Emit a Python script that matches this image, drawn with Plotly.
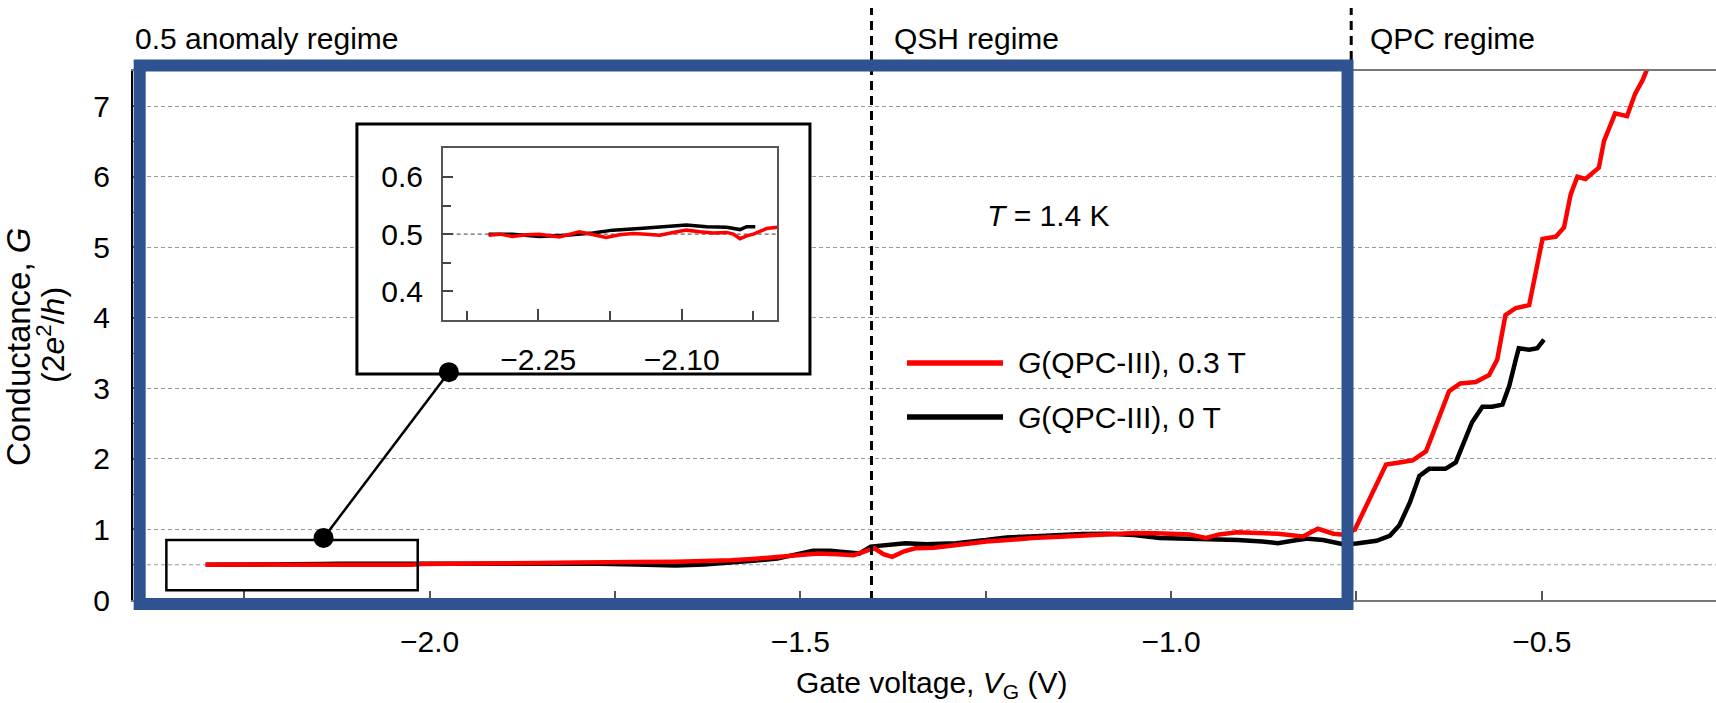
import plotly.graph_objects as go

# ---------------- data ----------------
red_x = [-2.302, -2.290, -2.277, -2.262, -2.249, -2.228, -2.207, -2.193, -2.179, -2.165,
         -2.151, -2.137, -2.123, -2.109, -2.095, -2.081, -2.067, -2.053, -2.046, -2.039,
         -2.032, -2.025, -2.011, -2.000, -1.950, -1.900, -1.850, -1.800, -1.772, -1.720,
         -1.668, -1.630, -1.593, -1.560, -1.531, -1.500, -1.476, -1.450, -1.428, -1.410,
         -1.400, -1.388, -1.376, -1.360, -1.345, -1.320, -1.290, -1.270, -1.249, -1.220,
         -1.187, -1.150, -1.118, -1.085, -1.049, -1.020, -1.000, -0.975, -0.953, -0.935,
         -0.911, -0.885, -0.856, -0.822, -0.802, -0.781, -0.767, -0.752, -0.737, -0.723,
         -0.710, -0.692, -0.674, -0.656, -0.643, -0.625, -0.610, -0.589, -0.571, -0.560,
         -0.549, -0.535, -0.517, -0.508, -0.499, -0.481, -0.470, -0.461, -0.452, -0.441,
         -0.423, -0.416, -0.401, -0.385, -0.374, -0.364, -0.355]
red_g = [0.498, 0.500, 0.496, 0.499, 0.500, 0.495, 0.504, 0.499, 0.494, 0.499,
         0.501, 0.500, 0.498, 0.503, 0.507, 0.504, 0.502, 0.503, 0.500, 0.492,
         0.497, 0.500, 0.510, 0.512, 0.515, 0.518, 0.524, 0.532, 0.539, 0.540,
         0.543, 0.552, 0.563, 0.585, 0.612, 0.640, 0.660, 0.650, 0.636, 0.700,
         0.733, 0.650, 0.612, 0.690, 0.733, 0.740, 0.780, 0.800, 0.830, 0.850,
         0.879, 0.895, 0.913, 0.930, 0.951, 0.945, 0.940, 0.930, 0.879, 0.930,
         0.961, 0.950, 0.940, 0.900, 1.010, 0.940, 0.927, 1.000, 1.320, 1.620,
         1.920, 1.950, 1.980, 2.110, 2.460, 2.960, 3.070, 3.090, 3.190, 3.410,
         4.040, 4.140, 4.180, 4.670, 5.120, 5.150, 5.280, 5.750, 6.000, 5.970,
         6.130, 6.510, 6.900, 6.860, 7.180, 7.370, 7.600]

black_x = [-2.302, -2.277, -2.249, -2.221, -2.193, -2.172, -2.144, -2.123, -2.095, -2.074,
           -2.053, -2.039, -2.032, -2.023, -2.000, -1.950, -1.900, -1.850, -1.800, -1.772,
           -1.720, -1.668, -1.630, -1.600, -1.560, -1.531, -1.500, -1.483, -1.460, -1.442,
           -1.420, -1.405, -1.380, -1.358, -1.330, -1.290, -1.250, -1.222, -1.190, -1.153,
           -1.120, -1.084, -1.050, -1.015, -0.980, -0.946, -0.910, -0.877, -0.856, -0.830,
           -0.815, -0.795, -0.774, -0.768, -0.750, -0.723, -0.705, -0.692, -0.678, -0.665,
           -0.652, -0.630, -0.616, -0.603, -0.594, -0.580, -0.567, -0.553, -0.544, -0.535,
           -0.531, -0.517, -0.506, -0.497]
black_g = [0.500, 0.500, 0.496, 0.498, 0.502, 0.507, 0.510, 0.513, 0.516, 0.513,
           0.512, 0.508, 0.513, 0.513, 0.514, 0.515, 0.518, 0.520, 0.520, 0.515,
           0.505, 0.490, 0.505, 0.524, 0.560, 0.587, 0.650, 0.700, 0.700, 0.684,
           0.660, 0.757, 0.790, 0.806, 0.790, 0.806, 0.850, 0.888, 0.900, 0.927,
           0.935, 0.940, 0.920, 0.879, 0.870, 0.864, 0.850, 0.830, 0.806, 0.850,
           0.870, 0.850, 0.806, 0.790, 0.800, 0.840, 0.910, 1.060, 1.380, 1.760,
           1.860, 1.860, 1.950, 2.300, 2.520, 2.740, 2.740, 2.770, 3.030, 3.410,
           3.570, 3.550, 3.570, 3.690]

INSET_BLACK_END = -2.021

x_tick_vals = [-2.0, -1.5, -1.0, -0.5]
x_tick_text = ["\u22122.0", "\u22121.5", "\u22121.0", "\u22120.5"]
x_minor_vals = [-2.25, -1.75, -1.25, -0.75]
y_tick_vals = [0, 1, 2, 3, 4, 5, 6, 7]
y_minor_vals = [0.5, 1.5, 2.5, 3.5, 4.5, 5.5, 6.5, 7.5]
inset_x_ticks = [-2.25, -2.10]
inset_x_text = ["\u22122.25", "\u22122.10"]
inset_x_minor = [-2.325, -2.175, -2.025]
inset_y_ticks = [0.4, 0.5, 0.6]
inset_y_text = ["0.4", "0.5", "0.6"]
inset_y_minor = [0.45, 0.55]

regime_bounds = [-1.404, -0.757]
regime_labels = ["0.5 anomaly regime", "QSH regime", "QPC regime"]
legend_labels = ["<i>G</i>(QPC-III), 0.3 T", "<i>G</i>(QPC-III), 0 T"]

# ---------------- geometry / style ----------------
W, H = 1716, 703
ML, MR, MT, MB = 133, 0, 71, 103
PW, PH = W - ML - MR, H - MT - MB
X_RANGE = [-2.4, -0.265]
Y_RANGE = [0, 7.5]
INSET_X_RANGE = [-2.35, -2.0]
INSET_Y_RANGE = [0.35, 0.65]

FONT = "Liberation Sans, Arial, Helvetica, sans-serif"
FS = 30
RED = "#FF0000"
BLUE = "#2F5290"
GRID = "#9a9a9a"


def pxx(px):
    return (px - ML) / PW


def pxy(py):
    return (H - MB - py) / PH


fig = go.Figure()

# main traces
fig.add_trace(go.Scatter(x=black_x, y=black_g, mode="lines",
                         line=dict(color="black", width=4.5), xaxis="x", yaxis="y",
                         showlegend=False, hoverinfo="skip"))
fig.add_trace(go.Scatter(x=red_x, y=red_g, mode="lines",
                         line=dict(color=RED, width=4.5), xaxis="x", yaxis="y",
                         showlegend=False, hoverinfo="skip"))

# inset traces
ib = [(x, g) for x, g in zip(black_x, black_g) if x <= INSET_BLACK_END]
fig.add_trace(go.Scatter(x=[p[0] for p in ib], y=[p[1] for p in ib], mode="lines",
                         line=dict(color="black", width=3.5), xaxis="x2", yaxis="y2",
                         showlegend=False, hoverinfo="skip"))
fig.add_trace(go.Scatter(x=red_x, y=red_g, mode="lines",
                         line=dict(color=RED, width=3.5), xaxis="x2", yaxis="y2",
                         showlegend=False, hoverinfo="skip"))

shapes = []
dash_grid = "4px,3px"
# main 0.5 gridline
shapes.append(dict(type="line", xref="x", yref="y", x0=X_RANGE[0], x1=X_RANGE[1], y0=0.5, y1=0.5,
                   line=dict(color=GRID, width=1.2, dash=dash_grid), layer="between"))
# inset white frame (covers main gridlines)
shapes.append(dict(type="rect", xref="x", yref="y", x0=-2.098, x1=-1.487, y0=3.204, y1=6.749,
                   fillcolor="white", line=dict(color="black", width=3), layer="between"))
# inset 0.5 gridline
shapes.append(dict(type="line", xref="x2", yref="y2", x0=INSET_X_RANGE[0], x1=INSET_X_RANGE[1],
                   y0=0.5, y1=0.5, line=dict(color="#666", width=1.2, dash=dash_grid),
                   layer="between"))
# small zoom rectangle
shapes.append(dict(type="rect", xref="x", yref="y", x0=-2.355, x1=-2.016, y0=0.14, y1=0.85,
                   line=dict(color="black", width=2.5), layer="above"))
# connector
shapes.append(dict(type="line", xref="x", yref="y", x0=-2.143, y0=0.88, x1=-1.974, y1=3.23,
                   line=dict(color="black", width=2.5), layer="above"))
for (cx, cy) in [(-2.143, 0.88), (-1.974, 3.23)]:
    shapes.append(dict(type="circle", xref="x", yref="y", xsizemode="pixel", ysizemode="pixel",
                       xanchor=cx, yanchor=cy, x0=-10, x1=10, y0=-10, y1=10,
                       fillcolor="black", line=dict(color="black", width=0), layer="above"))
# regime boundaries
for xb in regime_bounds:
    shapes.append(dict(type="line", xref="x", yref="paper", x0=xb, x1=xb, y0=0, y1=pxy(8),
                       line=dict(color="black", width=3, dash="9px,6px"), layer="above"))
# blue highlight box
shapes.append(dict(type="rect", xref="x", yref="paper", x0=-2.391, x1=-0.762,
                   y0=pxy(604), y1=pxy(65.5), line=dict(color=BLUE, width=12), layer="above"))
# legend samples
for py, col in [(363, RED), (417, "black")]:
    shapes.append(dict(type="line", xref="paper", yref="paper", x0=pxx(907), x1=pxx(1003),
                       y0=pxy(py), y1=pxy(py), line=dict(color=col, width=5.5), layer="above"))

annotations = []
font = dict(family=FONT, size=FS, color="black")
for lbl, px in zip(regime_labels, [133, 892, 1368]):
    annotations.append(dict(text=lbl, xref="paper", yref="paper", x=pxx(px), y=pxy(38.5),
                            xanchor="left", yanchor="middle", showarrow=False, font=font))
for lbl, py in zip(legend_labels, [363, 417]):
    annotations.append(dict(text=lbl, xref="paper", yref="paper", x=pxx(1016), y=pxy(py),
                            xanchor="left", yanchor="middle", showarrow=False, font=font))
annotations.append(dict(text="<i>T</i> = 1.4 K", xref="paper", yref="paper", x=pxx(985),
                        y=pxy(216), xanchor="left", yanchor="middle", showarrow=False, font=font))
annotations.append(dict(text="Gate voltage, <i>V</i><sub>G</sub> (V)", xref="paper", yref="paper",
                        x=pxx(931), y=pxy(684), xanchor="center", yanchor="middle",
                        showarrow=False, font=font))
annotations.append(dict(text="Conductance, <i>G</i>", xref="paper", yref="paper",
                        x=pxx(18), y=pxy(347), xanchor="center", yanchor="middle",
                        textangle=-90, showarrow=False, font=dict(family=FONT, size=33, color="black")))
annotations.append(dict(text="(2<i>e</i><sup>2</sup>/<i>h</i>)", xref="paper", yref="paper",
                        x=pxx(51), y=pxy(335), xanchor="center", yanchor="middle",
                        textangle=-90, showarrow=False, font=dict(family=FONT, size=32, color="black")))

fig.update_layout(
    width=W, height=H,
    margin=dict(l=ML, r=MR, t=MT, b=MB, pad=0),
    paper_bgcolor="white", plot_bgcolor="white",
    font=font,
    showlegend=False,
    shapes=shapes,
    annotations=annotations,
    xaxis=dict(domain=[0, 1], range=X_RANGE, anchor="y",
               tickmode="array", tickvals=x_tick_vals, ticktext=x_tick_text,
               ticks="inside", ticklen=9, tickwidth=1.5, tickcolor="#555",
               minor=dict(tickmode="array", tickvals=x_minor_vals,
                          ticks="inside", ticklen=9, tickwidth=1.5, tickcolor="#555"),
               showline=True, linecolor="#777", linewidth=1.5, mirror=True,
               showgrid=False, zeroline=False, ticklabelstandoff=14,
               tickfont=dict(family=FONT, size=FS, color="black")),
    yaxis=dict(domain=[0, 1], range=Y_RANGE, anchor="x",
               tickmode="array", tickvals=y_tick_vals,
               ticks="inside", ticklen=9, tickwidth=1.5, tickcolor="#555",
               minor=dict(tickmode="array", tickvals=y_minor_vals,
                          ticks="inside", ticklen=6, tickwidth=1.2, tickcolor="#555"),
               showline=True, linecolor="black", linewidth=2, mirror=False,
               showgrid=True, gridcolor=GRID, gridwidth=1.2, griddash=dash_grid,
               zeroline=False, ticklabelstandoff=15,
               tickfont=dict(family=FONT, size=FS, color="black")),
    xaxis2=dict(domain=[pxx(442.7), pxx(777.3)], range=INSET_X_RANGE, anchor="y2",
                tickmode="array", tickvals=inset_x_ticks, ticktext=inset_x_text,
                ticks="inside", ticklen=11, tickwidth=1.5, tickcolor="#444",
                minor=dict(tickmode="array", tickvals=inset_x_minor,
                           ticks="inside", ticklen=9, tickwidth=1.5, tickcolor="#444"),
                showline=True, linecolor="#555", linewidth=1.5, mirror=True,
                showgrid=False, zeroline=False, ticklabelstandoff=12,
                tickfont=dict(family=FONT, size=FS, color="black")),
    yaxis2=dict(domain=[pxy(320), pxy(148.3)], range=INSET_Y_RANGE, anchor="x2",
                tickmode="array", tickvals=inset_y_ticks, ticktext=inset_y_text,
                ticks="inside", ticklen=11, tickwidth=1.5, tickcolor="#444",
                minor=dict(tickmode="array", tickvals=inset_y_minor,
                           ticks="inside", ticklen=9, tickwidth=1.5, tickcolor="#444"),
                showline=True, linecolor="#555", linewidth=1.5, mirror=True,
                showgrid=False, zeroline=False, ticklabelstandoff=12,
                tickfont=dict(family=FONT, size=FS, color="black")),
)

fig.write_html("out.html")
